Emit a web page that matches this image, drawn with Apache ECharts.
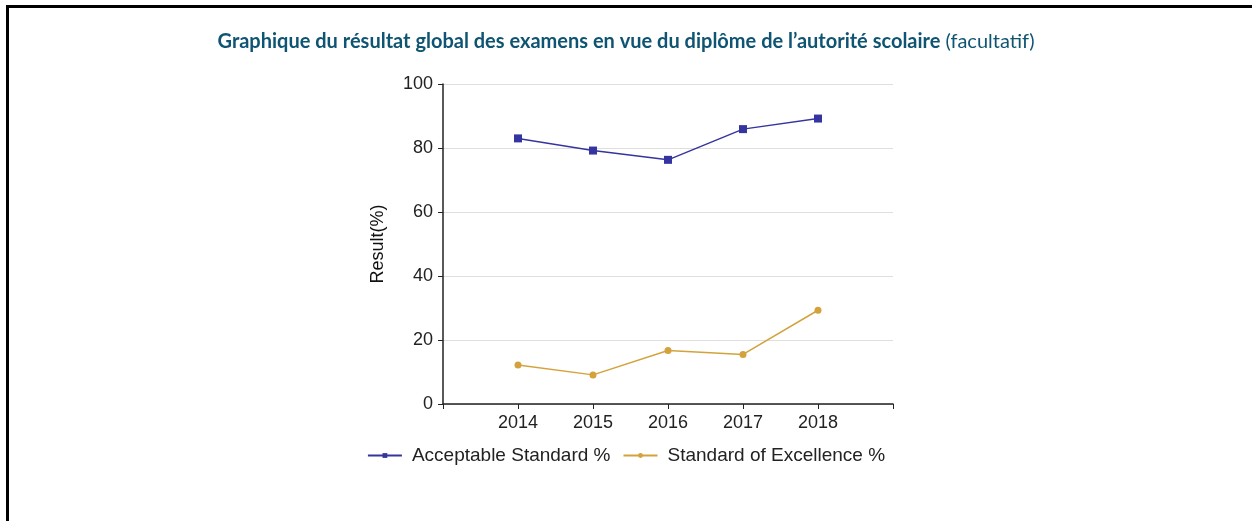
<!DOCTYPE html>
<html>
<head>
<meta charset="utf-8">
<script src="https://cdn.jsdelivr.net/npm/echarts@6/dist/echarts.min.js"></script>
<style>
  html, body { margin: 0; padding: 0; background: #fff; }
  #frame { position: absolute; left: 6px; top: 5px; width: 1246px; height: 516px;
           border-left: 3px solid #000; border-top: 3px solid #000; }
  #chart { position: absolute; left: 0; top: 0; width: 1252px; height: 521px; }
</style>
</head>
<body>
<div id="frame"></div>
<div id="chart"></div>
<script>
// données
var years = [2014, 2015, 2016, 2017, 2018];
var acceptable = [83.0, 79.2, 76.3, 85.9, 89.2];
var excellence = [12.2, 9.1, 16.7, 15.5, 29.3];
var seriesNames = ['Acceptable Standard %', 'Standard of Excellence %'];

function pairs(vals) {
    return years.map(function (y, i) { return [y, vals[i]]; });
}

var myChart = echarts.init(document.getElementById('chart'));
myChart.setOption({
    animation: false,
    title: {
        left: 'center',
        top: 27,
        text: '{b|Graphique du résultat global des examens en vue du diplôme de l\u2019autorité scolaire} {n|(facultatif)}',
        textStyle: {
            rich: {
                b: { fontFamily: 'Lato', fontSize: 20, fontWeight: 'bold', color: '#0f5573' },
                n: { fontFamily: 'Lato', fontSize: 20, fontWeight: 'normal', color: '#0f5573' }
            }
        }
    },
    grid: { left: 443, right: 359, top: 84, bottom: 117 },
    legend: {
        top: 441,
        left: 'center',
        itemWidth: 34,
        itemHeight: 6,
        itemGap: 12,
        textStyle: { fontFamily: 'Liberation Sans', fontSize: 19, color: '#222', padding: [0, 0, 0, 5] },
        data: seriesNames
    },
    xAxis: {
        type: 'value',
        min: 2013,
        max: 2019,
        interval: 1,
        splitLine: { show: false },
        axisLine: { lineStyle: { color: '#222', width: 1.5 } },
        axisTick: { show: true, length: 5, lineStyle: { color: '#222' } },
        axisLabel: {
            fontFamily: 'Liberation Sans', fontSize: 18, color: '#222', margin: 10,
            formatter: function (v) { return years.indexOf(v) >= 0 ? String(v) : ''; }
        }
    },
    yAxis: {
        type: 'value',
        min: 0,
        max: 100,
        interval: 20,
        name: 'Result(%)',
        nameLocation: 'middle',
        nameGap: 56,
        nameTextStyle: { fontFamily: 'Liberation Sans', fontSize: 18, color: '#111' },
        axisLine: { show: true, lineStyle: { color: '#222', width: 1.5 } },
        axisTick: { show: true, length: 5, lineStyle: { color: '#222' } },
        axisLabel: { fontFamily: 'Liberation Sans', fontSize: 18, color: '#222', margin: 10 },
        splitLine: { lineStyle: { color: '#dedede', width: 1 } }
    },
    series: [
        {
            name: seriesNames[0],
            type: 'line',
            data: pairs(acceptable),
            symbol: 'rect',
            symbolSize: 8,
            color: '#3535a0',
            lineStyle: { width: 1.5 }
        },
        {
            name: seriesNames[1],
            type: 'line',
            data: pairs(excellence),
            symbol: 'circle',
            symbolSize: 7,
            color: '#d4a23c',
            lineStyle: { width: 1.5 }
        }
    ]
});
</script>
</body>
</html>
